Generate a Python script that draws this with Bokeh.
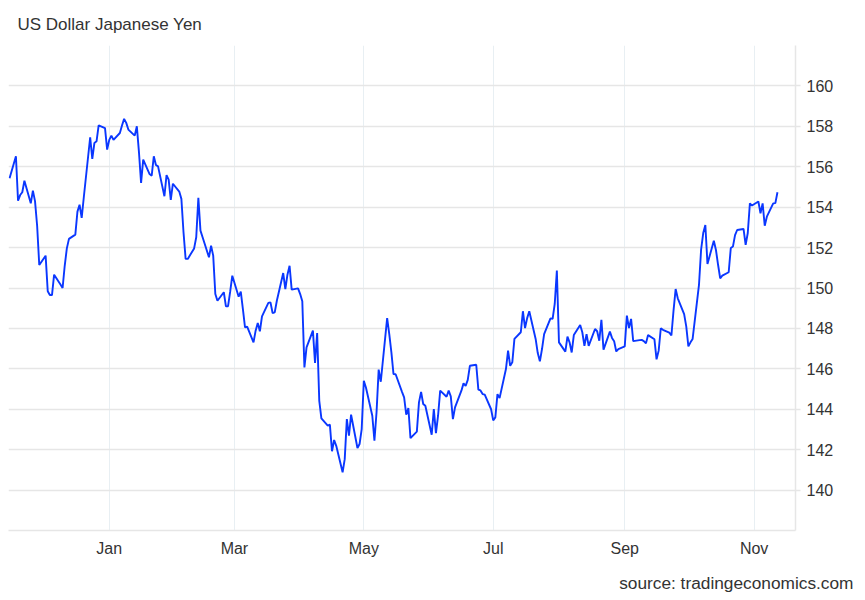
from datetime import datetime
import pandas as pd
from bokeh.plotting import figure
from bokeh.models import (ColumnDataSource, FixedTicker, MonthsTicker, DatetimeTickFormatter,
                          Title, Range1d)
from bokeh.embed import file_html
from bokeh.resources import INLINE

title_text = "US Dollar Japanese Yen"
source_text = "source: tradingeconomics.com"
start_date = "2024-11-15"

usdjpy = [
    155.43, 156.52, 154.32, 154.60, 154.74, 155.31, 154.19, 154.82, 154.30, 153.08,
    151.14, 151.60, 149.84, 149.65, 149.65, 150.66, 150.17, 150.00, 151.10, 151.96,
    152.43, 152.64, 153.78, 154.12, 153.47, 154.49, 157.46, 156.39, 157.18, 157.26,
    158.05, 157.91, 156.85, 157.33, 157.54, 157.33, 157.67, 158.04, 158.37, 158.17,
    157.84, 157.54, 158.00, 156.72, 155.20, 156.35, 155.64, 155.56, 156.52, 156.09,
    156.02, 154.54, 155.59, 155.36, 154.36, 155.16, 154.77, 154.41, 152.76, 151.44,
    151.44, 151.96, 152.51, 154.46, 152.84, 152.51, 151.52, 152.09, 151.60, 149.70,
    149.37, 149.79, 149.09, 149.10, 149.82, 150.61, 149.57, 149.82, 148.96, 148.05,
    148.09, 147.31, 147.89, 148.27, 147.86, 148.60, 149.26, 149.29, 148.76, 148.79,
    149.37, 150.74, 149.95, 150.66, 151.10, 149.92, 149.98, 149.70, 149.34, 146.07,
    147.06, 147.89, 146.29, 147.77, 144.42, 143.55, 143.19, 143.24, 141.92, 142.48,
    142.19, 140.88, 141.53, 143.51, 142.69, 143.73, 142.08, 142.28, 143.02, 145.41,
    145.08, 143.68, 142.44, 143.85, 145.96, 145.36, 148.51, 147.72, 146.81, 145.74,
    145.73, 144.86, 144.59, 143.73, 144.06, 142.57, 142.89, 144.34, 144.86, 144.26,
    144.17, 142.74, 144.01, 142.82, 143.68, 144.92, 144.62, 144.92, 144.64, 143.51,
    144.09, 144.92, 145.28, 145.16, 145.45, 146.15, 146.20, 144.97, 144.93, 144.75,
    144.72, 144.00, 143.45, 143.60, 144.75, 144.55, 145.99, 146.90, 146.15, 146.32,
    147.48, 147.81, 148.85, 148.02, 148.51, 148.85, 147.48, 146.78, 146.37, 146.98,
    147.72, 148.50, 148.47, 149.21, 150.86, 147.31, 146.85, 147.59, 147.31, 146.81,
    147.67, 148.17, 147.81, 147.14, 147.72, 147.14, 147.97, 147.86, 147.39, 148.43,
    146.95, 147.84, 147.53, 147.37, 146.86, 146.98, 147.11, 148.63, 148.02, 148.47,
    147.37, 147.42, 147.43, 147.37, 147.26, 147.67, 147.46, 146.47, 146.90, 148.01,
    147.93, 147.79, 147.65, 148.88, 149.95, 149.49, 148.71, 148.10, 147.11, 147.31,
    147.48, 150.15, 151.90, 152.72, 153.12, 151.19, 152.34, 151.88, 151.15, 150.48,
    150.61, 150.78, 151.98, 152.05, 152.62, 152.87, 152.92, 152.13, 152.72, 154.19,
    154.08, 154.28, 153.70, 154.19, 153.08, 153.53, 154.19, 154.20, 154.74,
]

y_label_ticks = [140, 142, 144, 146, 148, 150, 152, 154, 156, 158, 160]
y_grid_ticks = [138, 140, 142, 144, 146, 148, 150, 152, 154, 156, 158, 160, 162]
x_tick_months = [0, 2, 4, 6, 8, 10]

dates = pd.bdate_range(start_date, periods=len(usdjpy))
src = ColumnDataSource(data=dict(date=dates, value=usdjpy))

p = figure(
    frame_width=787, frame_height=485,
    x_axis_type="datetime", y_axis_location="right",
    x_range=Range1d(datetime(2024, 11, 14, 12), datetime(2025, 11, 20, 12)),
    y_range=Range1d(138, 162),
    output_backend="svg", toolbar_location=None,
    min_border_left=8, min_border_top=45, min_border_right=62, min_border_bottom=70,
)
p.outline_line_color = None
p.background_fill_color = "white"
p.border_fill_color = "white"

p.title = Title(text=title_text, align="left", offset=9, text_font="Liberation Sans",
                text_font_size="17px", text_font_style="normal", text_color="#333333",
                standoff=24)
p.add_layout(Title(text=source_text, align="right", offset=-58, text_font="Liberation Sans",
                   text_font_size="17.3px", text_font_style="normal", text_color="#333333",
                   standoff=23), "below")

p.line("date", "value", source=src, line_color="#0a37ff", line_width=1.9)

# y axis (right)
ya = p.yaxis[0]
ya.ticker = FixedTicker(ticks=y_label_ticks)
ya.axis_line_color = "#e6e6e6"
ya.axis_line_width = 1.5
ya.major_tick_line_color = "#e6e6e6"
ya.major_tick_line_width = 1.5
ya.major_tick_out = 5
ya.major_tick_in = 0
ya.minor_tick_line_color = None
ya.major_label_standoff = 6
ya.major_label_text_font = "Liberation Sans"
ya.major_label_text_font_size = "16px"
ya.major_label_text_color = "#333333"

# x axis
xa = p.xaxis[0]
xa.ticker = MonthsTicker(months=x_tick_months)
xa.formatter = DatetimeTickFormatter(months="%b", days="%b", years="%b", hours="%b",
                                     context=None)
xa.axis_line_color = "#e6e6e6"
xa.axis_line_width = 1.5
xa.major_tick_line_color = None
xa.major_tick_out = 0
xa.major_tick_in = 0
xa.minor_tick_line_color = None
xa.major_label_standoff = 9
xa.major_label_text_font = "Liberation Sans"
xa.major_label_text_font_size = "16px"
xa.major_label_text_color = "#333333"

p.ygrid.ticker = FixedTicker(ticks=y_grid_ticks)
p.ygrid.grid_line_color = "#e6e6e6"
p.ygrid.grid_line_width = 1.5
p.xgrid.ticker = MonthsTicker(months=x_tick_months)
p.xgrid.grid_line_color = "#e8eff3"
p.xgrid.grid_line_width = 1

open("out.html", "w").write(file_html(p, INLINE))
